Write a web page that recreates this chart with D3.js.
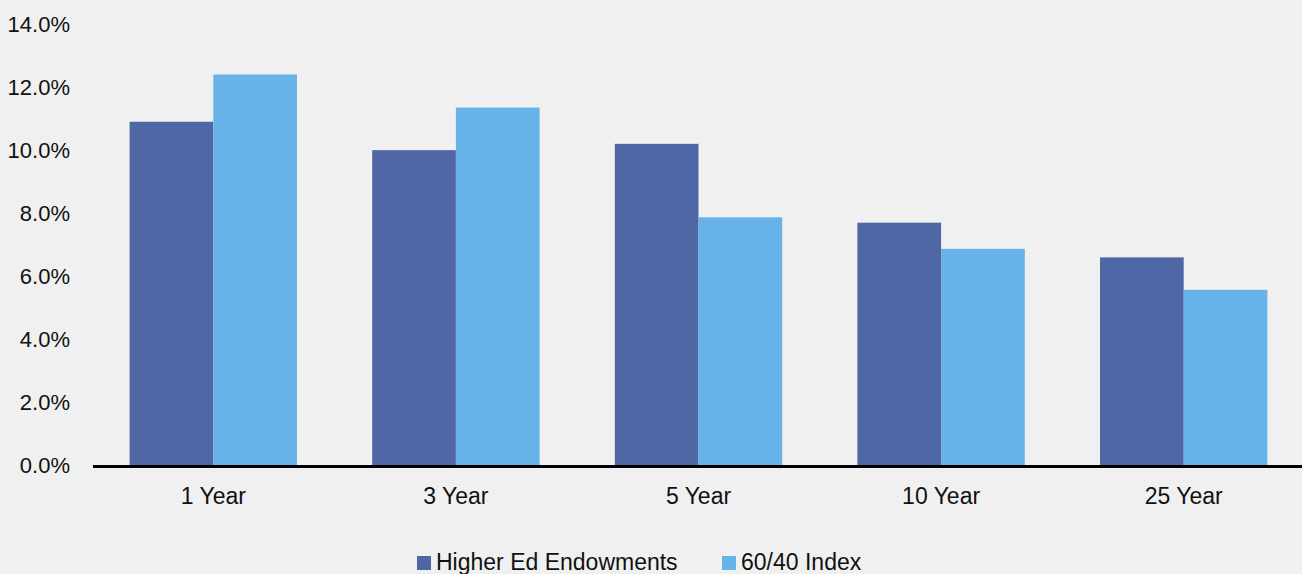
<!DOCTYPE html>
<html>
<head>
<meta charset="utf-8">
<script src="https://cdn.jsdelivr.net/npm/d3@7"></script>
<style>
  body { margin: 0; background: #f0f0f0; }
  svg { display: block; font-family: "Liberation Sans", Arial, sans-serif; }
</style>
</head>
<body>
<script>
var categories = ["1 Year", "3 Year", "5 Year", "10 Year", "25 Year"];
var seriesNames = ["Higher Ed Endowments", "60/40 Index"];
var endowments = [10.9, 10.0, 10.2, 7.7, 6.6];
var index6040 = [12.4, 11.35, 7.87, 6.87, 5.57];
var yTicks = [0, 2, 4, 6, 8, 10, 12, 14];
var colors = ["#4f67a5", "#67b2e8"];

var board = { width: 1302, height: 574 };
var margin = { top: 24, right: 0, bottom: 108, left: 92 };

var svg = d3.select("body").append("svg")
  .attr("width", board.width)
  .attr("height", board.height);

var x = d3.scaleBand()
  .domain(categories)
  .range([margin.left, board.width + 3])
  .paddingInner(0.31)
  .paddingOuter(0.155);

var x1 = d3.scaleBand()
  .domain(seriesNames)
  .range([0, x.bandwidth()]);

var y = d3.scaleLinear()
  .domain([0, 14])
  .range([board.height - margin.bottom - 0.5, margin.top]);

var rows = categories.map(function(c, i) {
  return { cat: c, values: [endowments[i], index6040[i]] };
});

// bars
var groups = svg.selectAll("g.group")
  .data(rows)
  .enter().append("g")
  .attr("class", "group")
  .attr("transform", function(d) { return "translate(" + x(d.cat) + ",0)"; });

groups.selectAll("rect")
  .data(function(d) { return d.values.map(function(v, k) { return { name: seriesNames[k], v: v, k: k }; }); })
  .enter().append("rect")
  .attr("x", function(d) { return x1(d.name); })
  .attr("width", x1.bandwidth())
  .attr("y", function(d) { return y(d.v); })
  .attr("height", function(d) { return y(0) - y(d.v); })
  .style("fill", function(d) { return colors[d.k]; });

// y axis labels
var yAxis = d3.axisLeft(y)
  .tickValues(yTicks)
  .tickSize(0)
  .tickPadding(0)
  .tickFormat(function(d) { return d.toFixed(1) + "%"; });

var yg = svg.append("g")
  .attr("transform", "translate(70,0)")
  .call(yAxis);
yg.select(".domain").remove();
yg.selectAll("text")
  .style("font-size", "22px")
  .style("fill", "#111");

// x axis
var xAxis = d3.axisBottom(x).tickSize(0).tickPadding(22);
var xg = svg.append("g")
  .attr("transform", "translate(0," + y(0) + ")")
  .call(xAxis);
xg.select(".domain").remove();
xg.selectAll("text")
  .style("font-size", "23px")
  .style("fill", "#111");

svg.append("line")
  .attr("x1", 93)
  .attr("x2", board.width)
  .attr("y1", y(0) + 1)
  .attr("y2", y(0) + 1)
  .style("stroke", "#000")
  .style("stroke-width", 3);

// legend
var legendPos = [417, 722];
var legend = svg.selectAll("g.legend")
  .data(seriesNames)
  .enter().append("g")
  .attr("class", "legend")
  .attr("transform", function(d, i) { return "translate(" + legendPos[i] + ",556)"; });

legend.append("rect")
  .attr("width", 14)
  .attr("height", 14)
  .style("fill", function(d, i) { return colors[i]; });

legend.append("text")
  .attr("x", 19)
  .attr("y", 14)
  .style("font-size", "23px")
  .style("fill", "#111")
  .text(function(d) { return d; });
</script>
</body>
</html>
